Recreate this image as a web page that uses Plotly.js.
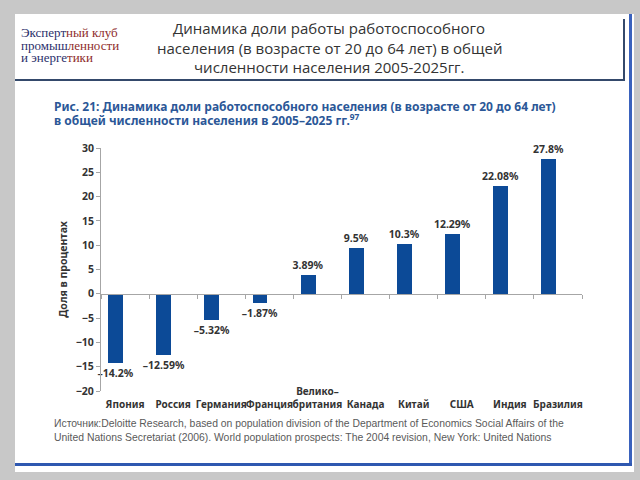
<!DOCTYPE html>
<html>
<head>
<meta charset="utf-8">
<script src="https://cdn.plot.ly/plotly-3.0.1.min.js"></script>
<style>
  html, body { margin:0; padding:0; background:#c8c8c8; }
  #wrap { position:relative; width:640px; height:480px; overflow:hidden; }
  #slide { position:absolute; left:15px; top:14px; width:619px; height:458px; background:#ffffff; }
  #hdrR { position:absolute; left:623px; top:19px; width:2px; height:62px; background:#34496b; }
  #hdrB { position:absolute; left:15px; top:79px; width:610px; height:2px; background:#34496b; }
  #outR { position:absolute; left:629px; top:14px; width:3px; height:452px; background:#3a62bd; }
  #outB { position:absolute; left:15px; top:463px; width:617px; height:3px; background:#2f58b0; }
  #chart { position:absolute; left:0; top:0; width:640px; height:480px; }
</style>
</head>
<body>
<div id="wrap">
  <div id="slide"></div>
  <div id="hdrR"></div>
  <div id="hdrB"></div>
  <div id="outR"></div>
  <div id="outB"></div>
  <div id="chart"></div>
</div>
<script>
// ---- data ----
const categories = ['Япония','Россия','Германия','Франция','Велико–<br>британия','Канада','Китай','США','Индия','Бразилия'];
const values = [-14.2, -12.59, -5.32, -1.87, 3.89, 9.5, 10.3, 12.29, 22.08, 27.8];
const yTicks = [-20, -15, -10, -5, 0, 5, 10, 15, 20, 25, 30];

const headerLines = ['Динамика доли работы работоспособного',
                     'населения (в возрасте от 20 до 64 лет) в общей',
                     'численности населения 2005-2025гг.'];
const titleLines = ['Рис. 21: Динамика доли работоспособного населения (в возрасте от 20 до 64 лет)',
                    'в общей численности населения в 2005–2025 гг.<sup>97</sup>'];
const sourceLines = ['Источник:Deloitte Research, based on population division of the Department of Economics Social Affairs of the',
                     'United Nations Secretariat (2006). World population prospects: The 2004 revision, New York: United Nations'];
const NAVY = '#2c2f6b', RED = '#8e2b2b';
const logoLines = [
  ['Эксперт','ный клуб'],
  ['промыш','ленности'],
  ['и энерге','тики']
];

// ---- layout helpers ----
const W = 640, H = 480, ML = 101, MR = 58, MT = 148, MB = 60;
const PW = W - ML - MR, PH = H - MT - MB;
const xp = px => (px - ML) / PW;
const yp = py => (H - MB - py) / PH;
const yMin = -20, yMax = 30;
const plotBottom = 391;
const d = yp(plotBottom);
const zeroPos = d + (0 - yMin) / (yMax - yMin) * (1 - d);

const labels = values.map(v => (v < 0 ? '–' : '') + Math.abs(v) + '%');
const catIdx = categories.map((c, i) => i);
const chartFont = 'Noto Sans, Open Sans, sans-serif';
const boldFont = { family: chartFont, size: 10.5, color: '#333333', weight: 'bold' };

const bars = {
  type: 'bar',
  x: categories,
  y: values,
  marker: { color: '#0c4a97' },
  width: 0.31,
  offset: -0.35,
  text: labels,
  textposition: 'outside',
  constraintext: 'none',
  textfont: boldFont,
  cliponaxis: false,
  hoverinfo: 'x+y'
};
// carrier for the category label axis (draws nothing)
const labelCarrier = {
  type: 'scatter', mode: 'none', x: catIdx, y: values, xaxis: 'x2', yaxis: 'y',
  hoverinfo: 'skip', showlegend: false
};

const annotations = [];
headerLines.forEach((t, i) => annotations.push({
  xref: 'paper', yref: 'paper', x: xp(329), y: yp(28 + i * 19.5), xanchor: 'center', yanchor: 'middle',
  text: t, showarrow: false, font: { family: 'Open Sans, sans-serif', size: 15, color: '#333333' }
}));
logoLines.forEach((p, i) => annotations.push({
  xref: 'paper', yref: 'paper', x: xp(19), y: yp(33 + i * 12), xanchor: 'left', yanchor: 'middle',
  text: '<span style="color:' + NAVY + '">' + p[0] + '</span><span style="color:' + RED + '">' + p[1] + '</span>',
  showarrow: false, font: { family: 'Liberation Serif, serif', size: 13, color: NAVY }
}));
titleLines.forEach((t, i) => annotations.push({
  xref: 'paper', yref: 'paper', x: xp(52), y: yp(106 + i * 14), xanchor: 'left', yanchor: 'middle',
  text: t, showarrow: false, font: { family: chartFont, size: 12, color: '#2b5797', weight: 'bold' }
}));
sourceLines.forEach((t, i) => annotations.push({
  xref: 'paper', yref: 'paper', x: xp(52), y: yp(423 + i * 14), xanchor: 'left', yanchor: 'middle',
  text: t, showarrow: false, font: { family: 'Liberation Sans, sans-serif', size: 10.4, color: '#5a5a5a' }
}));

const layout = {
  width: W, height: H,
  margin: { l: ML, r: MR, t: MT, b: MB, pad: 0 },
  paper_bgcolor: 'rgba(0,0,0,0)',
  plot_bgcolor: 'rgba(0,0,0,0)',
  showlegend: false,
  bargap: 0,
  xaxis: {
    type: 'category', categoryarray: categories, range: [-0.5, 9.5],
    anchor: 'free', position: zeroPos,
    showline: true, linecolor: '#a6a6a6', linewidth: 1,
    ticks: 'outside', tickson: 'boundaries', ticklen: 4, tickcolor: '#a6a6a6', tickwidth: 1,
    showticklabels: false, showgrid: false, zeroline: false, fixedrange: true
  },
  xaxis2: {
    overlaying: 'x', type: 'linear', range: [-0.5, 9.5],
    anchor: 'free', position: yp(410), side: 'top', tickangle: 0,
    tickmode: 'array', tickvals: catIdx, ticktext: categories,
    ticks: '', showline: false, showgrid: false, zeroline: false,
    tickfont: { family: chartFont, size: 10, color: '#333333', weight: 'bold' }
  },
  yaxis: {
    domain: [d, 1], range: [yMin, yMax], anchor: 'x',
    tickmode: 'array', tickvals: yTicks,
    showline: true, linecolor: '#a6a6a6', linewidth: 1,
    ticks: 'outside', ticklen: 4, tickcolor: '#a6a6a6',
    showgrid: false, zeroline: false,
    tickfont: boldFont,
    title: { text: 'Доля в процентах', standoff: 6, font: boldFont }
  },
  annotations: annotations
};

Plotly.newPlot('chart', [bars, labelCarrier], layout, { displayModeBar: false, staticPlot: true });
</script>
</body>
</html>
